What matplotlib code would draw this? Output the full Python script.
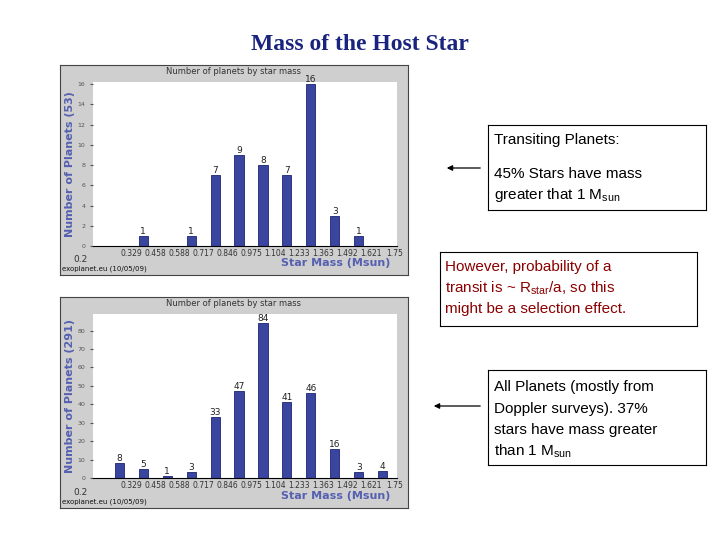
import matplotlib
matplotlib.use("Agg")
import matplotlib.pyplot as plt

edges = ["0.2","0.329","0.458","0.588","0.717","0.846","0.975","1.104","1.233","1.363","1.492","1.621","1.75"]
top_counts = [0,1,0,1,7,9,8,7,16,3,1,0]
bot_counts = [8,5,1,3,33,47,84,41,46,16,3,4]

W,H = 720,540
fig = plt.figure(figsize=(7.2,5.4), dpi=100)
fig.patch.set_facecolor("white")

def px(x0,y0,x1,y1):
    return [x0/W, 1-y1/H, (x1-x0)/W, (y1-y0)/H]

fig.text(360/W, 1-45/H, "Mass of the Host Star", ha="center", va="center",
         fontsize=17, fontweight="bold", family="Liberation Serif", color="#1a237e")

def panel(img, area, counts, ylab, ymax, ystep, date):
    bg = fig.add_axes(px(*img)); bg.set_facecolor("#cfcfcf")
    bg.set_xticks([]); bg.set_yticks([])
    for s in bg.spines.values(): s.set_color("#444")
    ax = fig.add_axes(px(*area))
    ax.set_facecolor("white")
    xs = [i+0.5 for i in range(len(counts))]
    ax.bar(xs, counts, width=0.38, color="#3a45a0", edgecolor="#1c2470", linewidth=0.6)
    for x,c in zip(xs,counts):
        if c>0:
            ax.text(x, c, str(c), ha="center", va="bottom", fontsize=6.5, color="#222")
    ax.set_xlim(-0.6, len(counts)+0.1)
    ax.set_ylim(0, ymax)
    ax.set_xticks(range(1,len(edges)))
    ax.set_xticklabels(edges[1:], fontsize=5.5, color="#333")
    ax.set_yticks(range(0, int(ymax)+1, ystep))
    ax.tick_params(axis="y", labelsize=4.5, length=2, colors="#555")
    ax.tick_params(axis="x", length=0, pad=2)
    for s in ["top","right","left"]: ax.spines[s].set_visible(False)
    ax.set_ylabel(ylab, fontsize=8, fontweight="bold", color="#5560b0", labelpad=2)
    x0,y0,x1,y1 = img
    fig.text(233/W, 1-(y0+7)/H, "Number of planets by star mass", fontsize=6, color="#333",
             ha="center", va="center")
    fig.text(80/W, 1-(y1-13)/H, "0.2", fontsize=6.5, color="#333", ha="center")
    fig.text((x0+2)/W, 1-(y1-3)/H, date, fontsize=5, color="#111", va="bottom")
    fig.text(390/W, 1-(y1-12)/H, "Star Mass (Msun)", fontsize=8, fontweight="bold",
             color="#5560b0", ha="right", va="center")

panel((60,65,408,275),(93,82,397,246), top_counts, "Number of Planets (53)", 16.2, 2, "exoplanet.eu (10/05/09)")
panel((60,297,408,508),(93,314,397,478), bot_counts, "Number of Planets (291)", 89, 10, "exoplanet.eu (10/05/09)")

def box(x0,y0,x1,y1):
    b = fig.add_axes(px(x0,y0,x1,y1)); b.set_xticks([]); b.set_yticks([])
    b.set_facecolor("none")
    for s in b.spines.values(): s.set_linewidth(0.8)

box(488,125,706,210)
fig.text(494/W,1-140/H,"Transiting Planets:",fontsize=11,family="Liberation Sans",va="center")
fig.text(494/W,1-174/H,"45% Stars have mass",fontsize=11,family="Liberation Sans",va="center")
fig.text(494/W,1-195/H,r"greater that 1 M$_{\mathregular{sun}}$",fontsize=11,family="Liberation Sans",va="center")

box(440,252,697,326)
fig.text(445/W,1-267/H,"However, probability of a",fontsize=11,family="Liberation Sans",va="center",color="#8b0000")
fig.text(445/W,1-288/H,r"transit is ~ R$_{\mathregular{star}}$/a, so this",fontsize=11,family="Liberation Sans",va="center",color="#8b0000")
fig.text(445/W,1-309/H,"might be a selection effect.",fontsize=11,family="Liberation Sans",va="center",color="#8b0000")

box(488,370,706,465)
for i,t in enumerate(["All Planets (mostly from","Doppler surveys). 37%","stars have mass greater",r"than 1 M$_{\mathregular{sun}}$"]):
    fig.text(494/W,1-(387+21.5*i)/H,t,fontsize=11,family="Liberation Sans",va="center")

fig.patches.append(matplotlib.patches.FancyArrowPatch((483/W,1-168/H),(444/W,1-168/H),
    transform=fig.transFigure, arrowstyle="-|>", mutation_scale=8, color="black", lw=0.9))
fig.patches.append(matplotlib.patches.FancyArrowPatch((483/W,1-406/H),(431/W,1-406/H),
    transform=fig.transFigure, arrowstyle="-|>", mutation_scale=8, color="black", lw=0.9))

fig.savefig("out.png", dpi=100)
